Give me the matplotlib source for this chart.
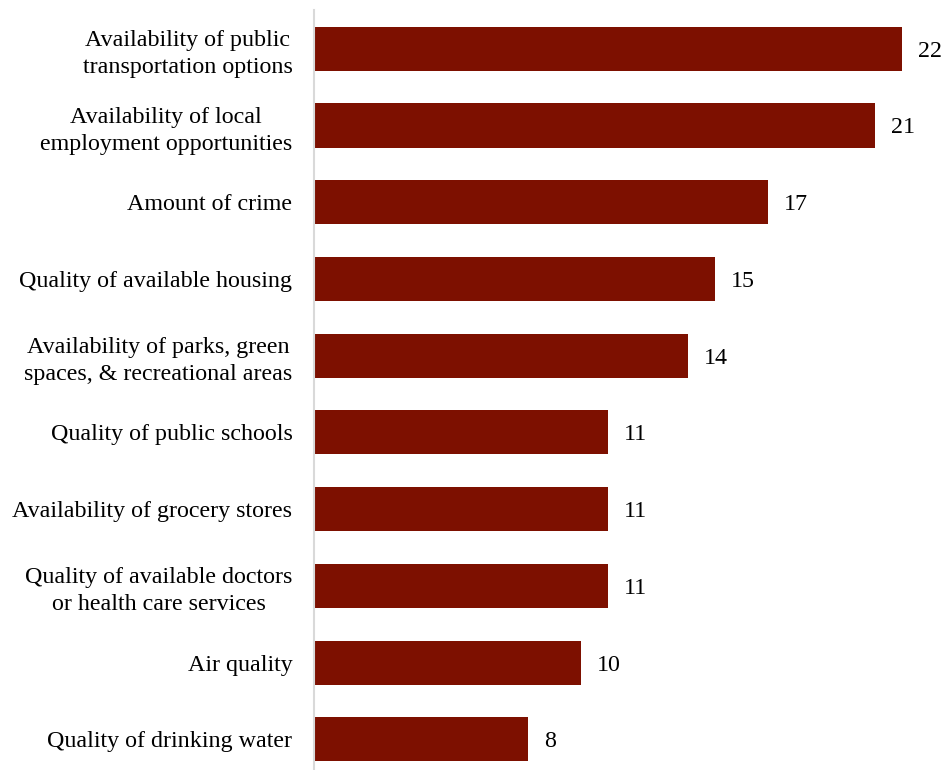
import matplotlib
matplotlib.use("Agg")
import matplotlib.pyplot as plt

categories = [
    "Availability of public\ntransportation options",
    "Availability of local\nemployment opportunities",
    "Amount of crime",
    "Quality of available housing",
    "Availability of parks, green\nspaces, & recreational areas",
    "Quality of public schools",
    "Availability of grocery stores",
    "Quality of available doctors\nor health care services",
    "Air quality",
    "Quality of drinking water",
]
values = [22, 21, 17, 15, 14, 11, 11, 11, 10, 8]

plt.rcParams['font.family'] = ['Liberation Serif', 'DejaVu Serif']

W, H = 942, 770
fig = plt.figure(figsize=(W / 100, H / 100), dpi=100)
ax = fig.add_axes([314 / W, 0, (W - 314) / W, 760 / H])

y = list(range(len(categories)))
ax.barh(y, values, height=0.575, color='#7D1000')
ax.set_ylim(len(categories) - 1 + 0.40, -0.505)
ax.set_xlim(0, 23.5)

for yi, v in zip(y, values):
    ax.text(v + 0.6, yi, str(v), va='center_baseline', ha='left', fontsize=17.3, color='#000000')

ax.set_yticks(y)
ax.set_yticklabels(categories, fontsize=17.3, ha='right', multialignment='center', linespacing=1.35)
ax.tick_params(axis='y', length=0, pad=15.5)
ax.set_xticks([])
for s in ['top', 'right', 'bottom']:
    ax.spines[s].set_visible(False)
ax.spines['left'].set_color('#D9D9D9')
ax.spines['left'].set_linewidth(1.5)

fig.savefig('out.png', dpi=100)
